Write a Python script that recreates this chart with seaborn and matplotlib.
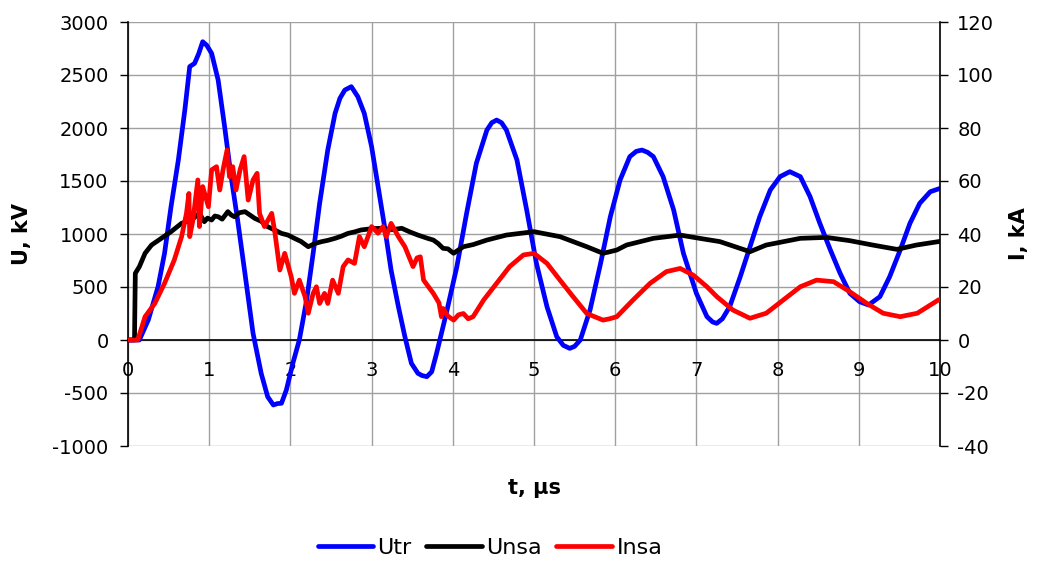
import numpy as np
import pandas as pd
import matplotlib
matplotlib.use("Agg")
import matplotlib.pyplot as plt
from matplotlib.lines import Line2D
import seaborn as sns

# ---- data ----
utr_t = [0, 0.14, 0.25, 0.37, 0.45, 0.53, 0.62, 0.70, 0.76, 0.82, 0.87, 0.92, 0.97, 1.03, 1.11, 1.19,
         1.27, 1.35, 1.44, 1.54, 1.64, 1.72, 1.79, 1.84, 1.89, 1.95, 2.03, 2.11, 2.2, 2.28, 2.36, 2.46,
         2.55, 2.61, 2.67, 2.75, 2.83, 2.91, 3.0, 3.08, 3.16, 3.24, 3.33, 3.41, 3.49, 3.57, 3.62, 3.68,
         3.74, 3.8, 3.92, 4.05, 4.17, 4.29, 4.42, 4.48, 4.54, 4.6, 4.66, 4.79, 4.91, 5.03, 5.16, 5.28,
         5.36, 5.44, 5.5, 5.57, 5.69, 5.82, 5.94, 6.06, 6.18, 6.26, 6.33, 6.4, 6.47, 6.59, 6.72, 6.84,
         7.0, 7.13, 7.2, 7.25, 7.32, 7.41, 7.54, 7.66, 7.78, 7.91, 8.03, 8.15, 8.28, 8.4, 8.52, 8.65,
         8.77, 8.89, 9.01, 9.12, 9.26, 9.38, 9.51, 9.63, 9.75, 9.88, 10.0]
utr_kv = [0, 0, 189, 503, 818, 1258, 1698, 2170, 2579, 2610, 2700, 2814, 2780, 2704, 2453, 2012,
          1541, 1132, 629, 63, -314, -535, -613, -600, -597, -472, -220, 0, 377, 818, 1289, 1792,
          2138, 2280, 2358, 2390, 2296, 2138, 1824, 1447, 1069, 660, 314, 31, -220, -314, -335, -346,
          -300, -126, 252, 692, 1195, 1667, 1981, 2050, 2075, 2050, 1981, 1698, 1226, 723, 314, 31,
          -50, -79, -60, 0, 283, 723, 1163, 1509, 1730, 1780, 1792, 1770, 1730, 1541, 1226, 818,
          440, 220, 170, 157, 200, 314, 597, 880, 1163, 1415, 1541, 1588, 1541, 1352, 1101, 849,
          629, 440, 361, 330, 409, 597, 849, 1101, 1289, 1399, 1430]

unsa_t = [0, 0.08, 0.09, 0.14, 0.21, 0.29, 0.41, 0.53, 0.66, 0.78, 0.88, 0.94, 0.98, 1.03, 1.07, 1.11,
          1.16, 1.23, 1.27, 1.31, 1.37, 1.44, 1.5, 1.56, 1.64, 1.72, 1.8, 1.89, 1.97, 2.05, 2.13, 2.22,
          2.3, 2.38, 2.46, 2.55, 2.63, 2.71, 2.79, 2.87, 3.0, 3.12, 3.25, 3.37, 3.47, 3.57, 3.69, 3.76,
          3.82, 3.88, 3.94, 4.01, 4.07, 4.13, 4.25, 4.42, 4.66, 5.0, 5.32, 5.65, 5.85, 5.92, 6.02, 6.14,
          6.47, 6.8, 7.04, 7.29, 7.66, 7.86, 8.28, 8.6, 8.89, 9.17, 9.47, 9.71, 9.98, 10.0]
unsa_kv = [0, 0, 629, 692, 818, 896, 959, 1022, 1101, 1132, 1195, 1116, 1150, 1132, 1170, 1163,
           1140, 1211, 1180, 1163, 1200, 1211, 1180, 1148, 1120, 1069, 1040, 1006, 990, 959, 930, 880,
           910, 927, 940, 959, 980, 1006, 1020, 1038, 1050, 1054, 1040, 1054, 1020, 990, 959, 943,
           910, 865, 860, 818, 850, 880, 900, 943, 990, 1022, 975, 880, 818, 830, 849, 896,
           959, 990, 959, 928, 833, 896, 959, 968, 937, 896, 855, 896, 928, 930]

insa_t = [0, 0.12, 0.21, 0.33, 0.45, 0.57, 0.66, 0.72, 0.75, 0.76, 0.8, 0.86, 0.88, 0.92, 0.99, 1.03,
          1.09, 1.13, 1.17, 1.22, 1.25, 1.29, 1.33, 1.38, 1.43, 1.48, 1.54, 1.59, 1.62, 1.68, 1.77, 1.81,
          1.87, 1.93, 2.01, 2.05, 2.11, 2.18, 2.22, 2.28, 2.32, 2.36, 2.42, 2.46, 2.52, 2.59, 2.65, 2.71,
          2.79, 2.85, 2.91, 3.0, 3.08, 3.14, 3.18, 3.24, 3.33, 3.41, 3.51, 3.56, 3.6, 3.64, 3.76, 3.83,
          3.86, 3.88, 3.94, 4.01, 4.07, 4.13, 4.19, 4.25, 4.38, 4.54, 4.7, 4.87, 5.0, 5.16, 5.32, 5.48,
          5.65, 5.85, 5.93, 6.02, 6.22, 6.43, 6.63, 6.8, 6.96, 7.13, 7.25, 7.45, 7.66, 7.86, 8.07, 8.28,
          8.48, 8.69, 8.89, 9.1, 9.3, 9.51, 9.72, 9.98, 10.0]
insa_ka = [0, 0, 8.8, 13.8, 21.4, 30.2, 39, 47.8, 55.3, 39, 45.3, 60.4, 42.8, 57.9, 50.3, 64.2,
           65.4, 56.6, 64.2, 71.7, 61.6, 65.4, 56.6, 64.2, 69.2, 52.8, 60.4, 62.9, 47.8, 42.8, 47.8, 40.3,
           26.4, 32.7, 23.9, 17.6, 22.6, 16.4, 10.1, 17.6, 20.1, 13.8, 17.6, 13.8, 22.6, 17.6, 27.7, 30.2,
           28.9, 39, 35.2, 42.8, 40.3, 42.8, 39, 44, 39, 35.2, 27.7, 31, 31.4, 22.6, 17.6, 14,
           8.8, 11.9, 9, 7.5, 9.5, 10, 8, 8.8, 15.1, 21.4, 27.7, 32.1, 32.7, 28.9, 22.6, 16.4,
           10, 7.5, 8, 8.8, 15.1, 21.4, 25.8, 27, 24.5, 20.1, 16.4, 11.3, 8.2, 10.1, 15.1, 20.1,
           22.6, 22, 18.2, 13.8, 10.1, 8.8, 10.1, 15.1, 15.3]

series_names = ["Utr", "Unsa", "Insa"]
series_colors = {"Utr": "#0000FF", "Unsa": "#000000", "Insa": "#FF0000"}
u_ticks = [-1000, -500, 0, 500, 1000, 1500, 2000, 2500, 3000]
i_ticks = [-40, -20, 0, 20, 40, 60, 80, 100, 120]
t_ticks = list(range(0, 11))

# ---- styling ----
sns.set_style("white")
plt.rcParams["font.family"] = ["DejaVu Sans"]
plt.rcParams["text.color"] = "black"
plt.rcParams["axes.labelcolor"] = "black"

fig = plt.figure(figsize=(10.38, 5.63), dpi=100)
ax = fig.add_axes([128 / 1038, 1 - 446 / 563, (940 - 128) / 1038, (446 - 22) / 563])

df_u = pd.concat([
    pd.DataFrame({"t": utr_t, "v": utr_kv, "s": "Utr"}),
    pd.DataFrame({"t": unsa_t, "v": unsa_kv, "s": "Unsa"}),
], ignore_index=True)
sns.lineplot(data=df_u, x="t", y="v", hue="s", hue_order=["Utr", "Unsa"],
             palette=series_colors, linewidth=3.4, ax=ax, legend=False,
             sort=False, estimator=None, zorder=3)

ax2 = ax.twinx()
df_i = pd.DataFrame({"t": insa_t, "v": insa_ka})
sns.lineplot(data=df_i, x="t", y="v", color=series_colors["Insa"], linewidth=3.4, ax=ax2,
             sort=False, estimator=None, zorder=3)

ax.set_xlim(0, 10)
ax.set_ylim(-1000, 3000)
ax2.set_ylim(-40, 120)
ax.set_xticks(t_ticks)
ax.set_yticks(u_ticks)
ax2.set_yticks(i_ticks)
ax.set_xticklabels([str(v) for v in t_ticks])
ax.set_yticklabels([str(v) for v in u_ticks])
ax2.set_yticklabels([str(v) for v in i_ticks])

ax.grid(True, color="#A0A0A0", linewidth=1.0)
ax.set_axisbelow(True)

for a in (ax, ax2):
    a.spines["top"].set_visible(False)
ax.spines["bottom"].set_position(("data", 0))
ax.spines["bottom"].set_color("black")
ax.spines["bottom"].set_linewidth(1.2)
ax.spines["left"].set_color("black")
ax.spines["left"].set_linewidth(1.2)
ax.spines["right"].set_visible(False)
ax2.spines["bottom"].set_visible(False)
ax2.spines["left"].set_visible(False)
ax2.spines["right"].set_color("black")
ax2.spines["right"].set_linewidth(1.2)

ax.tick_params(axis="y", labelsize=14, length=5.5, width=1, colors="black",
               direction="out", pad=8.5)
ax.tick_params(axis="x", labelsize=14, length=5, width=1, colors="black",
               direction="out", pad=10)
ax2.tick_params(axis="y", labelsize=14, length=5.5, width=1, direction="out", pad=7,
                colors="black")

ax.set_xlabel("t, µs", fontsize=15, fontweight="bold", color="black")
ax.xaxis.set_label_coords(0.5, -0.075)
ax.set_ylabel("U, kV", fontsize=15, fontweight="bold", color="black")
ax.yaxis.set_label_coords(-0.118, 0.5)
ax2.set_ylabel("I, kA", fontsize=15, fontweight="bold", color="black")
ax2.yaxis.set_label_coords(1.085, 0.5)

handles = [Line2D([], [], color=series_colors[n], lw=3.4, solid_capstyle="round")
           for n in series_names]
leg = fig.legend(handles, series_names, loc="center", bbox_to_anchor=(0.472, 0.027),
                 ncol=3, frameon=False, fontsize=16, handlelength=2.5, handletextpad=0.2,
                 columnspacing=0.65, borderpad=0.1)
for txt in leg.get_texts():
    txt.set_color("black")

fig.savefig("out.png", dpi=100)
